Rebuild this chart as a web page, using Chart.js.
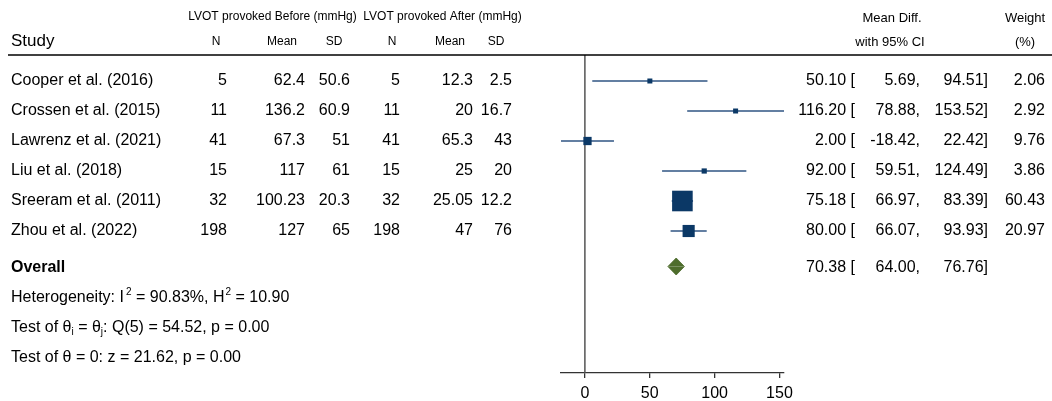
<!DOCTYPE html>
<html><head><meta charset="utf-8">
<script src="https://cdn.jsdelivr.net/npm/chart.js@4.4.1/dist/chart.umd.min.js"></script>
<style>html,body{margin:0;padding:0;background:#fff;overflow:hidden}canvas{display:block}</style>
</head><body>
<canvas id="c" width="1052" height="401"></canvas>
<script>
// ---- data ----
const studies = ["Cooper et al. (2016)","Crossen et al. (2015)","Lawrenz et al. (2021)","Liu et al. (2018)","Sreeram et al. (2011)","Zhou et al. (2022)"];
const nBefore = [5, 11, 41, 15, 32, 198];
const meanBefore = [62.4, 136.2, 67.3, 117, 100.23, 127];
const sdBefore = [50.6, 60.9, 51, 61, 20.3, 65];
const nAfter = [5, 11, 41, 15, 32, 198];
const meanAfter = [12.3, 20, 65.3, 25, 25.05, 47];
const sdAfter = [2.5, 16.7, 43, 20, 12.2, 76];
const meanDiff = [50.10, 116.20, 2.00, 92.00, 75.18, 80.00];
const ciLow = [5.69, 78.88, -18.42, 59.51, 66.97, 66.07];
const ciHigh = [94.51, 153.52, 22.42, 124.49, 83.39, 93.93];
const weights = [2.06, 2.92, 9.76, 3.86, 60.43, 20.97];
const overallMD = 70.38, overallLow = 64.00, overallHigh = 76.76;
const xTicks = [0, 50, 100, 150];

// ---- layout ----
const FONT = "'Liberation Sans', Arial, Helvetica, sans-serif";
const ROW_Y0 = 81, ROW_H = 30, Y_TOP = 55, Y_AXIS = 373;
const yMin = (Y_TOP - ROW_Y0) / ROW_H, yMax = (Y_AXIS - ROW_Y0) / ROW_H;
const overallRow = (266.5 - ROW_Y0) / ROW_H;
const diamondHalf = 8.5 / ROW_H;

const datasets = [];
// zero line
datasets.push({type:'line', order:3, data:[{x:0,y:yMin},{x:0,y:yMax}], borderColor:'#555', borderWidth:1.5, pointRadius:0, fill:false});
// whiskers
studies.forEach((s,i)=>{
  datasets.push({type:'line', order:2, data:[{x:ciLow[i],y:i},{x:ciHigh[i],y:i}], borderColor:'#2f5583', borderWidth:1.7, pointRadius:0, fill:false});
});
// boxes
datasets.push({type:'scatter', order:0, data: meanDiff.map((m,i)=>({x:m,y:i})), pointStyle:'rect',
  pointRadius: weights.map(w=>Math.max(5, 2.65*Math.sqrt(w))/Math.SQRT2),
  backgroundColor:'#0b3866', borderColor:'#0b3866', borderWidth:0});
// diamond (two halves filled to the row line)
datasets.push({type:'line', order:1, data:[{x:overallLow,y:overallRow},{x:overallMD,y:overallRow-diamondHalf},{x:overallHigh,y:overallRow}],
  borderColor:'#4b6a2b', borderWidth:0.8, pointRadius:0, backgroundColor:'#4e6d2c', fill:{value:overallRow}, tension:0});
datasets.push({type:'line', order:1, data:[{x:overallLow,y:overallRow},{x:overallMD,y:overallRow+diamondHalf},{x:overallHigh,y:overallRow}],
  borderColor:'#4b6a2b', borderWidth:0.8, pointRadius:0, backgroundColor:'#4e6d2c', fill:{value:overallRow}, tension:0});

function drawRich(ctx, parts, x, y, size){
  let cx = x;
  parts.forEach(p=>{
    let fs = size, dy = 0;
    if (p.sup){ fs = 10; dy = -6; }
    if (p.sub){ fs = 10; dy = 4; }
    ctx.font = fs + 'px ' + FONT;
    ctx.textAlign = 'left';
    ctx.fillText(p.t, cx + (p.gap||0), y + dy);
    cx += ctx.measureText(p.t).width + (p.gap||0);
  });
}

const textPlugin = {
  id:'forestText',
  afterDraw(chart){
    const ctx = chart.ctx;
    ctx.save();
    ctx.fillStyle = '#000';
    ctx.textBaseline = 'middle';
    const t = (s,x,y,align,size,bold)=>{
      ctx.font = (bold?'bold ':'') + size + 'px ' + FONT;
      ctx.textAlign = align; ctx.fillText(s,x,y);
    };
    // header line
    ctx.strokeStyle = '#000'; ctx.lineWidth = 1.5;
    ctx.beginPath(); ctx.moveTo(8,55); ctx.lineTo(1052,55); ctx.stroke();
    // headers
    t('LVOT provoked Before (mmHg)', 272.5, 17, 'center', 12);
    t('LVOT provoked After (mmHg)', 442.5, 17, 'center', 12);
    t('Study', 11, 41, 'left', 17);
    [['N',216],['Mean',282],['SD',334],['N',392],['Mean',450],['SD',496]].forEach(h=>t(h[0],h[1],42,'center',12));
    t('Mean Diff.', 892, 18, 'center', 13);
    t('with 95% CI', 890, 42, 'center', 13);
    t('Weight', 1025, 18, 'center', 13);
    t('(%)', 1025, 42, 'center', 13);
    // rows
    studies.forEach((s,i)=>{
      const y = ROW_Y0 + i*ROW_H;
      t(s, 11, y, 'left', 16);
      t(String(nBefore[i]), 227, y, 'right', 16);
      t(String(meanBefore[i]), 305, y, 'right', 16);
      t(String(sdBefore[i]), 350, y, 'right', 16);
      t(String(nAfter[i]), 400, y, 'right', 16);
      t(String(meanAfter[i]), 473, y, 'right', 16);
      t(String(sdAfter[i]), 512, y, 'right', 16);
      t(meanDiff[i].toFixed(2) + ' [', 855, y, 'right', 16);
      t(ciLow[i].toFixed(2) + ',', 920, y, 'right', 16);
      t(ciHigh[i].toFixed(2) + ']', 988, y, 'right', 16);
      t(weights[i].toFixed(2), 1045, y, 'right', 16);
    });
    // overall
    t('Overall', 11, 268, 'left', 16, true);
    t(overallMD.toFixed(2) + ' [', 855, 268, 'right', 16);
    t(overallLow.toFixed(2) + ',', 920, 268, 'right', 16);
    t(overallHigh.toFixed(2) + ']', 988, 268, 'right', 16);
    // footnotes
    drawRich(ctx, [{t:'Heterogeneity: I'},{t:'2',sup:true,gap:2},{t:' = 90.83%, H'},{t:'2',sup:true,gap:1},{t:' = 10.90'}], 11, 298, 16);
    drawRich(ctx, [{t:'Test of θ'},{t:'i',sub:true},{t:' = θ'},{t:'j',sub:true},{t:': Q(5) = 54.52, p = 0.00'}], 11, 328, 16);
    drawRich(ctx, [{t:'Test of θ = 0: z = 21.62, p = 0.00'}], 11, 358, 16);
    ctx.restore();
  }
};

new Chart(document.getElementById('c'), {
  type:'scatter',
  data:{datasets},
  options:{
    responsive:false, animation:false, events:[],
    clip:false,
    layout:{padding:{left:561, right:268, top:55, bottom:0}},
    plugins:{legend:{display:false}, tooltip:{enabled:false}},
    scales:{
      x:{type:'linear', min:Math.min(...ciLow), max:Math.max(...ciHigh),
        afterBuildTicks:s=>{s.ticks = xTicks.map(v=>({value:v}));},
        afterFit:s=>{s.height = 28;},
        ticks:{color:'#000', font:{family:FONT, size:16}, padding:6, maxRotation:0, autoSkip:false},
        grid:{drawOnChartArea:false, drawTicks:true, tickLength:5, color:'#333', lineWidth:1.3},
        border:{display:true, color:'#333', width:1.3}},
      y:{type:'linear', display:false, reverse:true, min:yMin, max:yMax}
    }
  },
  plugins:[textPlugin]
});
</script>
</body></html>
